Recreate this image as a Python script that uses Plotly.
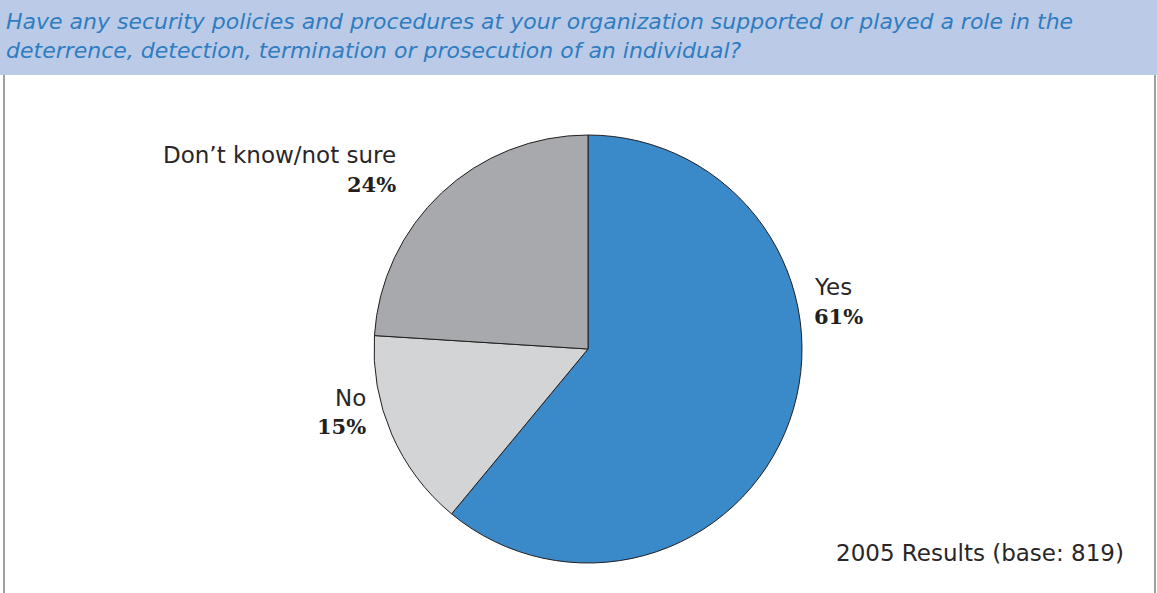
import plotly.graph_objects as go

labels = ["Yes", "No", "Don’t know/not sure"]
values = [61, 15, 24]
colors = ["#3A89C9", "#D3D4D6", "#A7A9AC"]
title_text = ("Have any security policies and procedures at your organization supported or played a role in the<br>"
              "deterrence, detection, termination or prosecution of an individual?")
note_text = "2005 Results (base: 819)"

W, H = 1157, 593
fig = go.Figure()
fig.add_trace(go.Pie(
    labels=labels, values=values, sort=False, direction="clockwise", rotation=0,
    marker=dict(colors=colors, line=dict(color="#231F20", width=1)),
    textinfo="none", hoverinfo="label+percent", showlegend=False,
    domain=dict(x=[374 / W, 802 / W], y=[(H - 563) / H, (H - 135) / H]),
))

def px(x): return x / W
def py(y): return 1 - y / H

lab_font = dict(family="DejaVu Sans, sans-serif", size=23, color="#2A2627")
pct_font = dict(family="DejaVu Serif, serif", size=21, color="#231F20")

positions = [
    (labels[0], values[0], 812, 287, 317, "left"),
    (labels[1], values[1], 368, 398, 426, "right"),
    (labels[2], values[2], 398, 155, 184, "right"),
]
ann = []
for lab, v, x, yl, yp, anc in positions:
    ann.append(dict(x=px(x), y=py(yl), xref="paper", yref="paper", text=lab, showarrow=False,
                    xanchor=anc, yanchor="middle", font=lab_font))
    ann.append(dict(x=px(x), y=py(yp), xref="paper", yref="paper", text=f"<b>{v}%</b>", showarrow=False,
                    xanchor=anc, yanchor="middle", font=pct_font))
ann.append(dict(x=px(1126), y=py(553), xref="paper", yref="paper", text=note_text, showarrow=False,
                xanchor="right", yanchor="middle", font=lab_font))
ann.append(dict(x=px(4), y=py(36), xref="paper", yref="paper", text=f"<i>{title_text}</i>", showarrow=False,
                xanchor="left", yanchor="middle", align="left",
                font=dict(family="DejaVu Sans, sans-serif", size=22, color="#2F7DC0")))

shapes = [
    dict(type="rect", xref="paper", yref="paper", x0=0, x1=1, y0=py(75), y1=1,
         fillcolor="#BBCBE7", line=dict(width=0), layer="below"),
    dict(type="line", xref="paper", yref="paper", x0=px(4), x1=px(4), y0=0, y1=py(75),
         line=dict(color="#A0A0A0", width=2)),
    dict(type="line", xref="paper", yref="paper", x0=px(1155), x1=px(1155), y0=0, y1=py(75),
         line=dict(color="#A0A0A0", width=2)),
]

fig.update_layout(width=W, height=H, margin=dict(l=0, r=0, t=0, b=0),
                  paper_bgcolor="white", plot_bgcolor="white",
                  annotations=ann, shapes=shapes)
fig.write_html("out.html", config={"displayModeBar": False},
               post_script="document.body.style.margin='0';document.body.style.overflow='hidden';")
